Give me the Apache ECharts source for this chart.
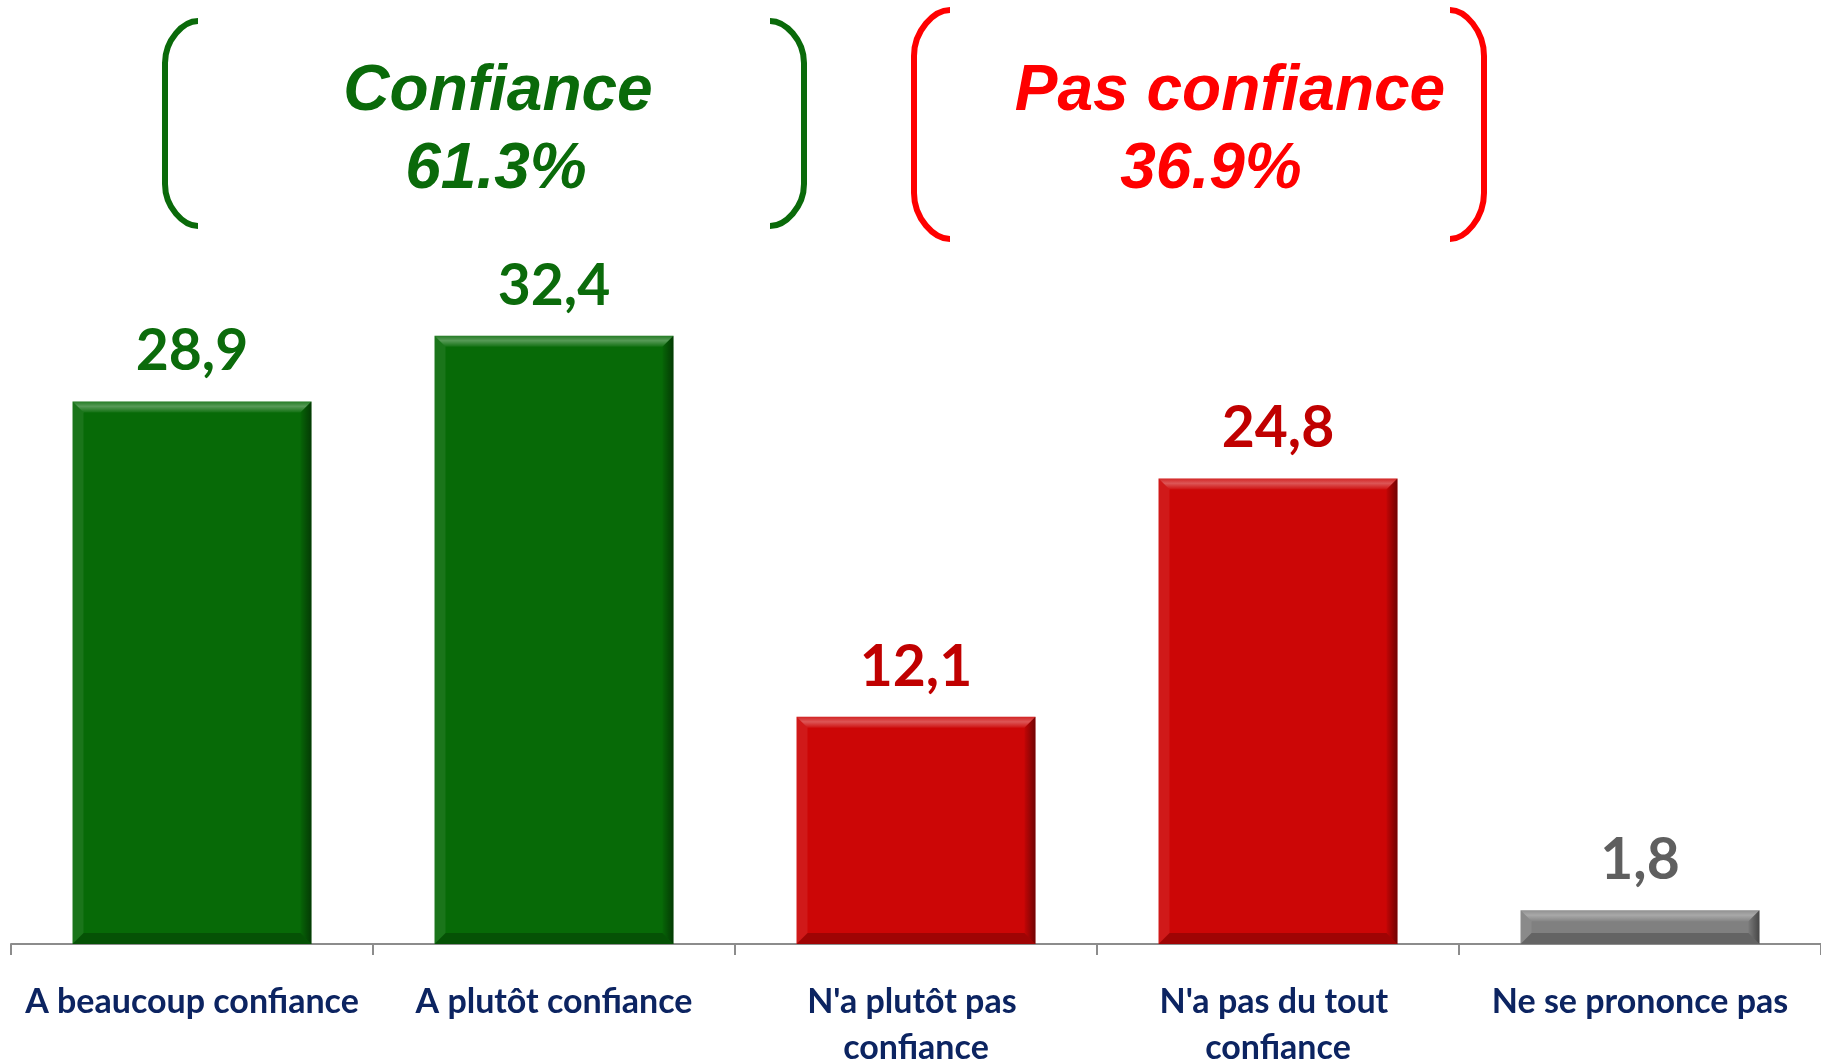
<!DOCTYPE html>
<html>
<head>
<meta charset="utf-8">
<script src="https://cdn.jsdelivr.net/npm/echarts@6/dist/echarts.min.js"></script>
<style>
  html, body { margin: 0; padding: 0; background: #fff; }
  #chart { width: 1821px; height: 1064px; }
</style>
</head>
<body>
<div id="chart"></div>
<script>
// data
const categories = ['A beaucoup confiance', 'A plutôt confiance', "N'a plutôt pas confiance", "N'a pas du tout confiance", 'Ne se prononce pas'];
const values = [28.9, 32.4, 12.1, 24.8, 1.8];
const groupNames = ['Confiance', 'Pas confiance'];
const groupTotals = [61.3, 36.9];

// styles
const barColors = ['#076a07', '#076a07', '#cc0606', '#cc0606', '#808080'];
const labelColors = ['#0b6b0b', '#0b6b0b', '#c00000', '#c00000', '#5f5f5f'];

const chart = echarts.init(document.getElementById('chart'));

// bracket = top curl + vertical line + bottom curl
function bracket(x, xe, y1, y2, r, color) {
  const k = 0.55;
  const dx = xe - x;
  const style = { fill: 'none', stroke: color, lineWidth: 6 };
  return [
    { type: 'bezierCurve', shape: { x1: xe, y1: y1, cpx1: x + dx * k, cpy1: y1, cpx2: x, cpy2: y1 + r * (1 - k), x2: x, y2: y1 + r }, style: style },
    { type: 'line', shape: { x1: x, y1: y1 + r, x2: x, y2: y2 - r }, style: style },
    { type: 'bezierCurve', shape: { x1: x, y1: y2 - r, cpx1: x, cpy1: y2 - r * (1 - k), cpx2: x + dx * k, cpy2: y2, x2: xe, y2: y2 }, style: style }
  ];
}

const titleFont = 'italic bold 64px "Liberation Sans", Arial, sans-serif';

const option = {
  animation: false,
  grid: { left: 11, right: 0, top: 193, bottom: 120, containLabel: false, outerBoundsMode: 'none' },
  xAxis: {
    type: 'category',
    data: categories,
    axisLine: { show: true, lineStyle: { color: '#8c8c8c', width: 2 } },
    axisTick: { show: true, interval: 0, length: 11, lineStyle: { color: '#8c8c8c', width: 2 } },
    axisLabel: {
      interval: 0,
      margin: 35,
      width: 350,
      overflow: 'break',
      color: '#0c2461',
      fontFamily: 'Lato',
      fontWeight: 'bold',
      fontSize: 34,
      lineHeight: 46
    }
  },
  yAxis: { type: 'value', min: 0, max: 40, show: false, splitLine: { show: false } },
  series: [
    {
      type: 'bar',
      barWidth: '66%',
      data: values.map((v, i) => ({
        value: v,
        itemStyle: { color: barColors[i] },
        label: { color: labelColors[i] }
      })),
      label: {
        show: true,
        position: 'top',
        distance: 21,
        fontFamily: 'Lato',
        fontWeight: 'bold',
        fontSize: 57,
        formatter: p => p.value.toFixed(1).replace('.', ',')
      }
    },
    {
      // bevel overlay on each bar
      type: 'custom',
      data: values.map((v, i) => [i, v]),
      z: 3,
      silent: true,
      renderItem: (params, api) => {
        const top = api.coord([api.value(0), api.value(1)]);
        const base = api.coord([api.value(0), 0]);
        const w = api.size([1, 0])[0] * 0.66;
        const x0 = top[0] - w / 2, x1 = top[0] + w / 2;
        const yT = top[1], yB = base[1];
        const b = Math.min(11, (yB - yT) / 3);
        return {
          type: 'group',
          children: [
            { type: 'polygon', shape: { points: [[x0, yT], [x1, yT], [x1 - b, yT + b], [x0 + b, yT + b]] },
              style: { fill: new echarts.graphic.LinearGradient(0, 0, 0, 1, [
                { offset: 0, color: 'rgba(255,255,255,0.12)' },
                { offset: 0.45, color: 'rgba(255,255,255,0.32)' },
                { offset: 1, color: 'rgba(255,255,255,0.05)' }]) } },
            { type: 'polygon', shape: { points: [[x0, yT], [x0 + b, yT + b], [x0 + b, yB - b], [x0, yB]] },
              style: { fill: 'rgba(255,255,255,0.08)' } },
            { type: 'polygon', shape: { points: [[x1, yT], [x1, yB], [x1 - b, yB - b], [x1 - b, yT + b]] },
              style: { fill: new echarts.graphic.LinearGradient(0, 0, 1, 0, [
                { offset: 0, color: 'rgba(0,0,0,0.05)' },
                { offset: 1, color: 'rgba(0,0,0,0.45)' }]) } },
            { type: 'polygon', shape: { points: [[x0, yB], [x1, yB], [x1 - b, yB - b], [x0 + b, yB - b]] },
              style: { fill: 'rgba(0,0,0,0.22)' } }
          ]
        };
      }
    }
  ],
  graphic: [].concat(
    bracket(165, 198, 21, 226, 42, '#0a6a0a'),
    bracket(804, 770, 21, 226, 42, '#0a6a0a'),
    bracket(914, 950, 10, 239, 46, '#ff0000'),
    bracket(1484, 1450, 10, 239, 46, '#ff0000'),
    [
      { type: 'text', x: 498, y: 92, style: { text: groupNames[0], font: titleFont, fill: '#0a6a0a', align: 'center', verticalAlign: 'middle' } },
      { type: 'text', x: 496, y: 170, style: { text: groupTotals[0].toFixed(1) + '%', font: titleFont, fill: '#0a6a0a', align: 'center', verticalAlign: 'middle' } },
      { type: 'text', x: 1230, y: 92, style: { text: groupNames[1], font: titleFont, fill: '#ff0000', align: 'center', verticalAlign: 'middle' } },
      { type: 'text', x: 1211, y: 170, style: { text: groupTotals[1].toFixed(1) + '%', font: titleFont, fill: '#ff0000', align: 'center', verticalAlign: 'middle' } }
    ]
  )
};

chart.setOption(option);
</script>
</body>
</html>
